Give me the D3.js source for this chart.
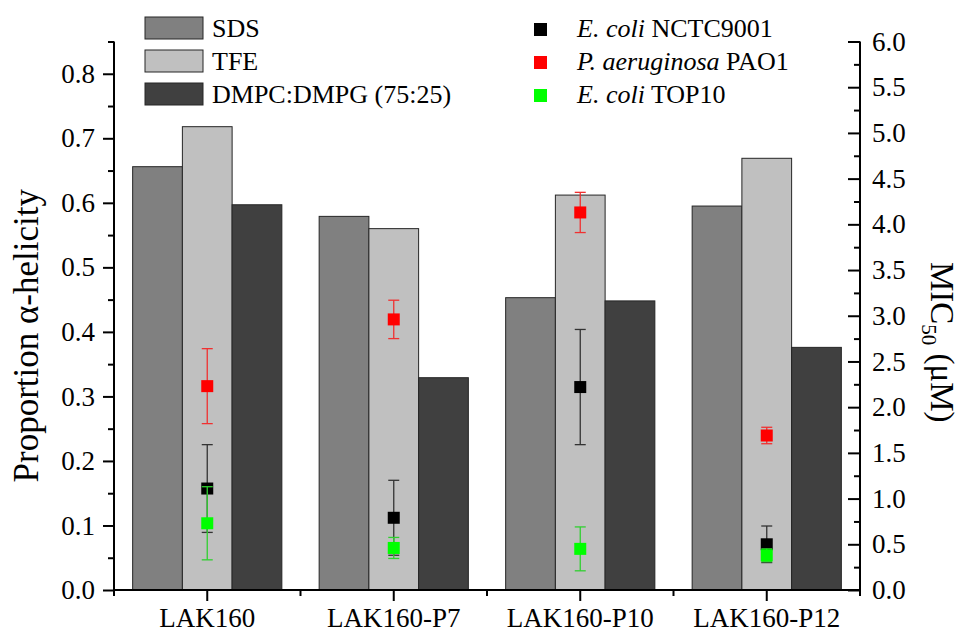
<!DOCTYPE html>
<html><head><meta charset="utf-8">
<script src="https://cdn.jsdelivr.net/npm/d3@7"></script>
<style>
body{margin:0;background:#fff}
svg{display:block}
text{font-family:'Liberation Serif','Times New Roman','DejaVu Serif',serif;fill:#000}
</style>
</head><body>
<svg id="c" width="962" height="633"></svg>
<script>
// ---- data ----
const categories = ["LAK160", "LAK160-P7", "LAK160-P10", "LAK160-P12"];
const barSeries = ["SDS", "TFE", "DMPC:DMPG (75:25)"];
const sds  = [0.656, 0.579, 0.453, 0.595];
const tfe  = [0.718, 0.560, 0.612, 0.669];
const dmpc = [0.597, 0.329, 0.448, 0.376];

const micSeries = ["E. coli NCTC9001", "P. aeruginosa PAO1", "E. coli TOP10"];
const ecoliNCTC    = [1.11, 0.79, 2.22, 0.50];
const ecoliNCTCErr = [0.48, 0.41, 0.63, 0.20];
const paeru        = [2.23, 2.96, 4.13, 1.69];
const paeruErr     = [0.41, 0.21, 0.22, 0.09];
const ecoliTOP     = [0.73, 0.46, 0.45, 0.38];
const ecoliTOPErr  = [0.40, 0.115, 0.24, 0.07];

const leftTicks  = [0, 0.1, 0.2, 0.3, 0.4, 0.5, 0.6, 0.7, 0.8];
const leftMinor  = [0.05, 0.15, 0.25, 0.35, 0.45, 0.55, 0.65, 0.75, 0.85];
const rightTicks = [0, 0.5, 1, 1.5, 2, 2.5, 3, 3.5, 4, 4.5, 5, 5.5, 6];
const rightMinor = [0.25, 0.75, 1.25, 1.75, 2.25, 2.75, 3.25, 3.75, 4.25, 4.75, 5.25, 5.75];

// ---- styles ----
const barColors = ["#808080", "#c0c0c0", "#404040"];
const micColors = ["#000000", "#ff0000", "#00ff00"];
const errColors = ["#333333", "#f03030", "#30d030"];
const FONT = "'Liberation Serif','Times New Roman','DejaVu Serif',serif";

const svg = d3.select("#c");
const L = 114, R = 860, T = 41.5, B = 590;

const x = d3.scaleBand().domain(categories).range([L, R]).padding(0);
const xs = d3.scaleBand().domain(barSeries)
  .range([x.bandwidth() * 0.1, x.bandwidth() * 0.9]).padding(0);
const yL = d3.scaleLinear().domain([0, 0.85]).range([B, T]);
const yR = d3.scaleLinear().domain([0, 6]).range([B, T]);

const barData = [sds, tfe, dmpc];

// bars
const gBars = svg.append("g");
categories.forEach((c, i) => {
  barSeries.forEach((s, j) => {
    const v = barData[j][i];
    gBars.append("rect")
      .attr("x", x(c) + xs(s))
      .attr("y", yL(v))
      .attr("width", xs.bandwidth())
      .attr("height", yL(0) - yL(v))
      .attr("fill", barColors[j])
      .attr("stroke", "#262626")
      .attr("stroke-width", 1);
  });
});

// MIC markers + error bars
const micData = [[ecoliNCTC, ecoliNCTCErr], [paeru, paeruErr], [ecoliTOP, ecoliTOPErr]];
const gM = svg.append("g");
micData.forEach(([vals, errs], k) => {
  categories.forEach((c, i) => {
    const cx = x(c) + x.bandwidth() / 2;
    const v = vals[i], e = errs[i];
    const g = gM.append("g").attr("stroke", errColors[k]).attr("stroke-width", 1.3);
    g.append("line").attr("x1", cx).attr("x2", cx).attr("y1", yR(v + e)).attr("y2", yR(v - e));
    g.append("line").attr("x1", cx - 5.5).attr("x2", cx + 5.5).attr("y1", yR(v + e)).attr("y2", yR(v + e));
    g.append("line").attr("x1", cx - 5.5).attr("x2", cx + 5.5).attr("y1", yR(v - e)).attr("y2", yR(v - e));
    gM.append("rect")
      .attr("x", cx - 6).attr("y", yR(v) - 6)
      .attr("width", 12).attr("height", 12)
      .attr("fill", micColors[k]);
  });
});

// ---- axes ----
function styleAxis(g, size) {
  g.attr("font-family", null).attr("font-size", null);
  g.selectAll("path.domain").remove();
  g.selectAll(".tick line").attr("stroke", "#000").attr("stroke-width", 2);
  g.selectAll(".tick text").style("font-family", FONT).style("font-size", size + "px").attr("fill", "#000");
}

// left
const gLmaj = svg.append("g").attr("transform", `translate(${L},0)`)
  .call(d3.axisLeft(yL).tickValues(leftTicks).tickFormat(d3.format(".1f")).tickSize(11).tickPadding(8));
styleAxis(gLmaj, 27);
const gLmin = svg.append("g").attr("transform", `translate(${L},0)`)
  .call(d3.axisLeft(yL).tickValues(leftMinor).tickFormat("").tickSize(6));
styleAxis(gLmin, 27);

// right
const gRmaj = svg.append("g").attr("transform", `translate(${R},0)`)
  .call(d3.axisRight(yR).tickValues(rightTicks).tickFormat(d3.format(".1f")).tickSizeInner(-12).tickSizeOuter(0).tickPadding(12));
styleAxis(gRmaj, 27);
const gRmin = svg.append("g").attr("transform", `translate(${R},0)`)
  .call(d3.axisRight(yR).tickValues(rightMinor).tickFormat("").tickSizeInner(-6).tickSizeOuter(0));
styleAxis(gRmin, 27);

// bottom
const gB = svg.append("g").attr("transform", `translate(0,${B})`)
  .call(d3.axisBottom(x).tickSize(11).tickPadding(7));
styleAxis(gB, 27);
const bounds = categories.map(c => x(c)).concat([x.range()[1]]);
svg.append("g").selectAll("line").data(bounds).join("line")
  .attr("x1", d => d).attr("x2", d => d).attr("y1", B).attr("y2", B + 6)
  .attr("stroke", "#000").attr("stroke-width", 2);

// axis lines
svg.append("line").attr("x1", L).attr("x2", L).attr("y1", T).attr("y2", B + 1).attr("stroke", "#000").attr("stroke-width", 2);
svg.append("line").attr("x1", R).attr("x2", R).attr("y1", T).attr("y2", B + 1).attr("stroke", "#000").attr("stroke-width", 2);
svg.append("line").attr("x1", L - 1).attr("x2", R + 1).attr("y1", B).attr("y2", B).attr("stroke", "#000").attr("stroke-width", 2);

// axis titles
svg.append("text")
  .attr("transform", `translate(38,${(T + B) / 2 + 20}) rotate(-90)`)
  .attr("text-anchor", "middle")
  .style("font-family", FONT)
  .style("font-size", "35px")
  .text("Proportion α-helicity");

const rt = svg.append("text")
  .attr("transform", `translate(931,262) rotate(90)`)
  .attr("text-anchor", "start")
  .style("font-family", FONT)
  .style("font-size", "33px");
rt.append("tspan").text("MIC");
rt.append("tspan").attr("dy", 9).style("font-size", "21px").text("50");
rt.append("tspan").attr("dy", -9).text(" (μM)");

// ---- legends ----
const lg = svg.append("g");
barSeries.forEach((s, j) => {
  const yy = 17 + j * 33;
  lg.append("rect").attr("x", 145).attr("y", yy).attr("width", 58).attr("height", 22)
    .attr("fill", barColors[j]).attr("stroke", "#262626").attr("stroke-width", 1);
  lg.append("text").attr("x", 212).attr("y", yy + 20).style("font-family", FONT).style("font-size", "26px").text(s);
});

const micLegendParts = [
  [["E. coli", true], [" NCTC9001", false]],
  [["P. aeruginosa", true], [" PAO1", false]],
  [["E. coli", true], [" TOP10", false]]
];
micSeries.forEach((s, k) => {
  const yy = 23 + k * 33;
  lg.append("rect").attr("x", 534).attr("y", yy).attr("width", 13).attr("height", 13)
    .attr("fill", micColors[k]);
  const t = lg.append("text").attr("x", 577).attr("y", yy + 14).style("font-family", FONT).style("font-size", "26px");
  micLegendParts[k].forEach(([txt, it]) => {
    t.append("tspan").style("font-style", it ? "italic" : "normal").text(txt);
  });
});
</script>
</body></html>
